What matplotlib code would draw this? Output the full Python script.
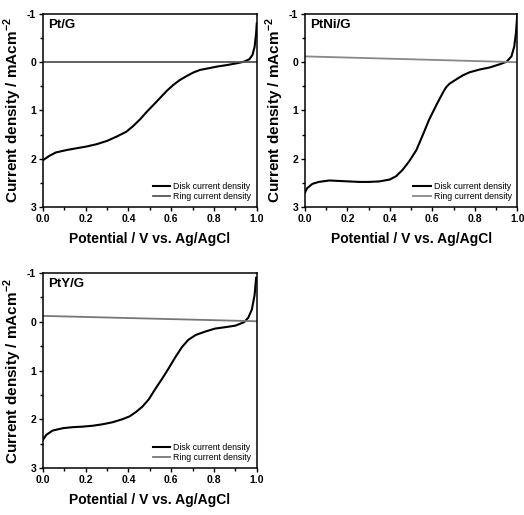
import matplotlib
matplotlib.use("Agg")
import matplotlib.pyplot as plt
from matplotlib.ticker import MultipleLocator

plt.rcParams["mathtext.fontset"] = "custom"
plt.rcParams["mathtext.bf"] = "Liberation Sans:bold"
plt.rcParams["mathtext.rm"] = "Liberation Sans"

# potential (V vs Ag/AgCl) and disk current density (mA cm-2)
pt_v = [0.0, 0.03, 0.06, 0.11, 0.16, 0.2, 0.25, 0.3, 0.345, 0.39, 0.42, 0.455, 0.485,
        0.52, 0.55, 0.58, 0.61, 0.64, 0.675, 0.705, 0.735, 0.77, 0.815, 0.86, 0.91,
        0.94, 0.965, 0.98, 0.99, 0.997, 1.0]
pt_disk = [2.03, 1.94, 1.87, 1.82, 1.78, 1.75, 1.70, 1.63, 1.54, 1.44, 1.33, 1.18, 1.03,
           0.87, 0.73, 0.59, 0.47, 0.37, 0.28, 0.21, 0.16, 0.13, 0.09, 0.06, 0.02,
           -0.01, -0.06, -0.15, -0.32, -0.6, -0.8]
pt_ring_v = [0.0, 1.0]
pt_ring = [0.0, 0.0]

ptni_v = [0.0, 0.01, 0.035, 0.065, 0.115, 0.16, 0.21, 0.255, 0.3, 0.35, 0.4, 0.43, 0.46,
          0.49, 0.525, 0.555, 0.585, 0.62, 0.65, 0.665, 0.68, 0.715, 0.745, 0.775, 0.825,
          0.87, 0.92, 0.95, 0.973, 0.986, 0.994, 1.0]
ptni_disk = [2.70, 2.61, 2.52, 2.48, 2.45, 2.46, 2.47, 2.48, 2.48, 2.47, 2.43, 2.36, 2.23,
             2.06, 1.82, 1.51, 1.19, 0.88, 0.63, 0.52, 0.45, 0.35, 0.27, 0.21, 0.15,
             0.11, 0.04, -0.01, -0.12, -0.32, -0.6, -0.95]
ptni_ring_v = [0.0, 1.0]
ptni_ring = [-0.12, 0.0]

pty_v = [0.0, 0.015, 0.045, 0.095, 0.14, 0.185, 0.235, 0.28, 0.325, 0.37, 0.405, 0.435,
         0.465, 0.495, 0.525, 0.56, 0.59, 0.62, 0.65, 0.68, 0.715, 0.76, 0.805, 0.855,
         0.9, 0.94, 0.96, 0.977, 0.99, 0.997]
pty_disk = [2.42, 2.32, 2.23, 2.18, 2.16, 2.15, 2.13, 2.10, 2.06, 2.0, 1.94, 1.85,
            1.74, 1.59, 1.38, 1.15, 0.94, 0.72, 0.52, 0.37, 0.27, 0.20, 0.14, 0.11,
            0.08, 0.01, -0.08, -0.25, -0.55, -0.9]
pty_ring_v = [0.0, 1.0]
pty_ring = [-0.12, -0.01]

xticks = [0.0, 0.2, 0.4, 0.6, 0.8, 1.0]
yticks = [-1, 0, 1, 2, 3]

sans = ["Liberation Sans", "DejaVu Sans"]


def panel(fig, rect, name, v, disk, rv, ring, ring_color):
    ax = fig.add_axes(rect)
    ax.plot(v, disk, color="black", lw=1.5, solid_joinstyle="round",
            label="Disk current density")
    ax.plot(rv, ring, color=ring_color, lw=1.3, label="Ring current density")
    ax.set_xlim(0, 1.0)
    ax.set_ylim(3, -1)
    ax.set_xticks(xticks)
    ax.set_xticklabels([f"{t:.1f}" for t in xticks])
    ax.set_yticks(yticks)
    ax.set_yticklabels([str(t) for t in yticks])
    ax.xaxis.set_minor_locator(MultipleLocator(0.1))
    ax.yaxis.set_minor_locator(MultipleLocator(0.5))
    ax.tick_params(which="both", direction="out", top=False, right=False, width=1)
    ax.tick_params(which="major", length=3, labelsize=7.5, pad=2)
    ax.tick_params(which="minor", length=2)
    for lab in ax.get_xticklabels() + ax.get_yticklabels():
        lab.set_family(sans)
        lab.set_fontweight("bold")
    for s in ax.spines.values():
        s.set_linewidth(1.1)
    ax.text(0.025, 0.975, name, transform=ax.transAxes, ha="left", va="top",
            fontsize=9.5, fontweight="bold", family=sans)
    ax.set_xlabel("Potential / V vs. Ag/AgCl", fontsize=10, fontweight="bold",
                  family=sans, labelpad=6)
    ax.set_ylabel("Current density / mAcm$^{\\mathbf{-2}}$", fontsize=11,
                  fontweight="bold", family=sans)
    ax.yaxis.set_label_coords(-0.088, 0.5)
    ax.legend(loc="lower right", frameon=False, handlelength=2.0,
              handletextpad=0.3, labelspacing=0.15, borderaxespad=0.25,
              prop={"family": sans, "size": 6.3})
    return ax


fig = plt.figure(figsize=(5.24, 5.15), dpi=100)
panel(fig, [0.082, 0.598, 0.408, 0.375], "Pt/G", pt_v, pt_disk, pt_ring_v, pt_ring, "#555555")
panel(fig, [0.582, 0.598, 0.405, 0.375], "PtNi/G", ptni_v, ptni_disk, ptni_ring_v, ptni_ring, "#888888")
panel(fig, [0.082, 0.091, 0.408, 0.379], "PtY/G", pty_v, pty_disk, pty_ring_v, pty_ring, "#777777")
fig.savefig("out.png", dpi=100)
